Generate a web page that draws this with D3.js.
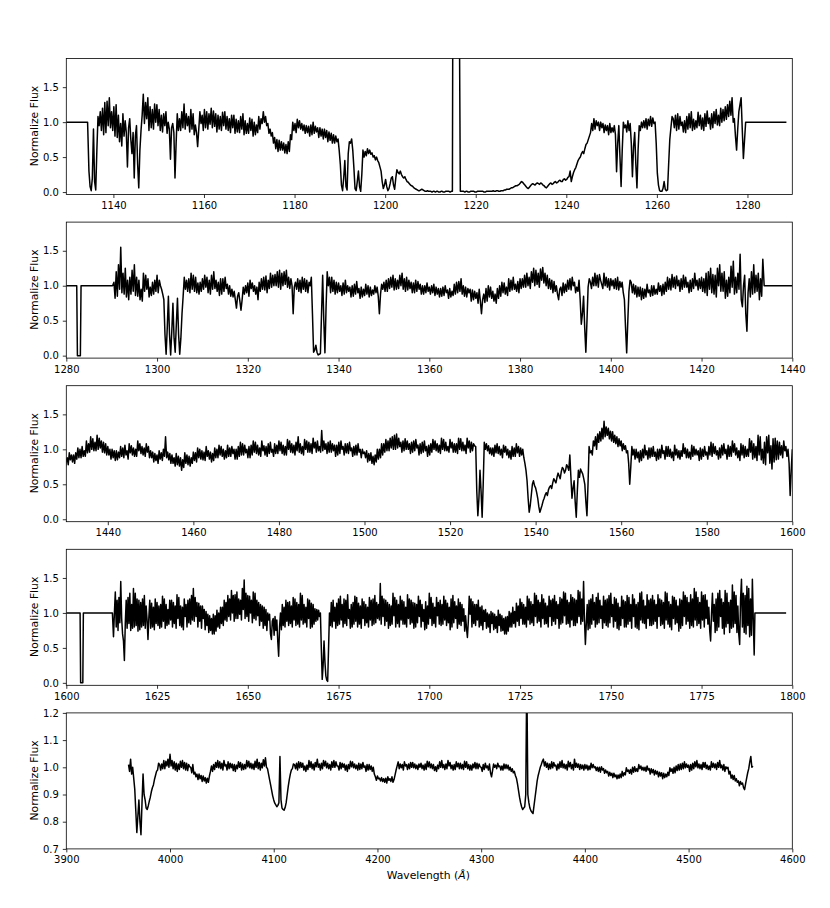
<!DOCTYPE html>
<html><head><meta charset="utf-8">
<script src="https://cdn.jsdelivr.net/npm/d3@7"></script>
<style>
body{margin:0;background:#fff}
svg{display:block}
text{font-family:"DejaVu Sans",sans-serif}
</style>
</head><body>
<svg id="chart" width="830" height="908"></svg>
<script>
// ---------------- DATA (flux) ----------------
// Panel 1: flat padding (λ, flux) and noisy flux in percent, λ = 1134.6 + 0.25·i
const pad1Left = [[1129.6,1],[1134.3,1]];
const pad1Right = [[1279.6,1],[1288.6,1]];
const flux1Start = 1134.6, flux1Step = 0.25;
const flux1Pct = [
30,8,2,20,90,15,3,60,108,95,115,88,120,82,128,85,130,95,135,92,
115,88,122,80,125,78,110,72,98,66,112,80,102,85,36,92,105,75,55,85,
20,80,95,40,6,60,88,110,140,98,128,105,135,88,122,92,118,90,126,100,
125,95,118,88,110,86,112,95,115,84,100,90,47,92,98,85,20,70,112,88,
105,88,115,92,126,90,112,95,108,86,118,90,112,82,96,85,65,90,115,98,
110,88,118,92,115,90,112,97,120,92,116,94,112,86,110,90,108,88,114,95,
115,90,108,88,105,85,110,92,110,84,104,86,102,85,108,90,112,82,102,84,
98,84,106,88,104,80,100,82,96,85,108,90,105,98,
115,100,108,95,98,84,90,80,85,70,78,62,75,58,74,60,72,60,70,56,68,55,72,58,82,75,100,88,98,85,104,92,102,90,
98,88,96,84,95,85,94,80,96,82,100,84,94,86,92,78,92,80,90,76,90,78,88,72,86,74,84,70,82,70,80,72,76,60,
40,10,2,20,45,8,3,55,72,70,76,60,35,5,2,15,30,8,1,25,
60,50,58,52,62,55,60,54,56,50,52,46,50,45,42,36,30,15,5,10,
18,8,2,5,12,20,22,10,4,20,32,28,26,30,25,22,20,22,18,15,
14,12,10,9,8,6,5,4,3,2,2,3,4,3,2,1,1,2,1,1,
1,0,1,1,0,1,1,0,0,1,1,0,0,1,1,1,1,0,1,1,
700,700,700,700,700,300,1,1,
1,1,0,1,1,0,0,1,1,1,1,0,0,1,1,1,1,1,1,0,0,1,1,1,1,1,1,2,1,1,2,2,
1,1,2,2,2,3,3,4,4,4,5,6,6,7,8,9,9,10,11,13,15,14,12,10,8,6,5,7,9,11,12,11,10,12,13,12,11,13,12,10,9,7,6,8,10,12,13,11,12,14,15,13,14,16,17,15,15,18,19,17,18,21,22,30,15,22,28,32,35,40,45,48,50,55,58,55,62,68,70,75,80,85,98,88,105,90,102,95,100,88,100,92,98,85,96,88,95,82,98,85,92,86,95,82,
29,70,95,50,8,60,100,92,96,86,102,88,98,70,22,65,85,40,6,60,95,88,100,92,102,92,105,90,104,95,108,94,106,98,100,70,27,10,2,1,1,5,15,4,2,3,40,75,92,108,
105,92,110,88,112,90,108,95,100,86,102,85,108,90,112,92,115,88,104,90,102,92,114,95,110,90,106,88,112,94,116,98,106,90,112,92,115,98,118,96,110,95,120,100,118,102,122,104,125,108,130,110,135,100,105,80,60,90,115,125,135,90,48
];

// Panel 2
const pad2Left = [[1280,1],[1282.3,1],[1282.45,0],[1283.1,0],[1283.25,1],[1290.2,1]];
const pad2Right = [[1433.8,1],[1440,1]];
const flux2Start = 1290.5, flux2Step = 0.25;
const flux2Pct = [
105,82,120,85,130,95,155,90,118,88,125,84,108,80,112,88,122,92,130,86,112,85,108,80,95,78,118,92,115,95,110,84,98,86,105,88,108,92,115,90,
108,100,95,88,80,30,2,40,85,30,1,35,75,25,5,45,82,30,2,25,60,85,112,95,108,92,110,90,118,95,115,92,112,90,104,88,105,92,110,95,
115,98,112,90,108,88,115,95,120,96,108,92,105,86,110,88,110,92,112,96,102,88,100,85,95,84,92,80,68,85,90,78,65,80,98,88,100,90,104,85,
108,96,104,92,100,88,98,80,105,92,110,95,112,94,114,90,108,96,118,98,115,100,116,100,120,98,122,95,118,100,120,102,122,98,112,96,110,100,60,98,
105,95,110,92,108,90,112,95,110,92,108,90,105,100,112,60,5,8,15,5,1,2,3,60,115,50,4,70,120,100,112,90,112,92,108,88,105,90,104,92,
100,86,104,88,108,90,100,92,98,84,100,85,102,88,106,90,96,82,98,84,95,86,102,88,100,84,98,86,94,88,100,90,98,85,60,88,102,95,105,92,
108,92,110,96,112,98,115,94,110,95,108,96,115,100,118,95,110,92,112,94,108,96,105,90,104,90,108,92,106,95,102,88,100,88,100,90,104,92,98,88,
100,90,102,86,98,88,96,84,96,85,98,86,100,90,94,82,96,84,92,86,102,88,105,90,106,92,110,88,100,85,98,84,96,90,95,78,94,80,92,82,
90,75,95,78,60,80,88,76,96,78,100,84,98,82,92,78,88,75,96,82,100,85,105,90,104,88,98,86,110,92,108,94,112,95,102,92,106,90,110,96,
110,98,115,98,118,100,112,96,120,105,125,100,122,102,118,98,124,108,126,104,118,100,115,96,110,95,108,90,106,92,100,88,80,95,98,86,104,90,102,92,
108,95,110,94,112,100,105,90,98,92,108,80,45,60,85,40,5,50,98,110,105,96,112,100,118,100,115,98,116,108,102,96,118,100,112,98,110,94,110,100,
108,96,110,95,112,94,106,98,105,90,80,40,4,50,92,108,105,90,102,88,100,84,98,85,98,80,96,82,95,84,102,90,94,85,100,86,100,88,95,88,
104,92,100,86,102,88,105,92,112,95,110,94,116,98,112,96,114,100,108,92,110,95,115,98,112,98,105,90,108,92,110,96,118,100,108,94,110,96,112,92,
110,90,118,86,120,95,125,90,116,88,115,84,125,100,130,92,118,92,120,82,108,85,112,90,128,98,135,88,112,90,118,95,145,80,70,100,115,60,35,90,
110,84,120,88,130,90,115,92,118,80,110,85,138
];

// Panel 3
const pad3Left = [];
const pad3Right = [];
const flux3Start = 1430, flux3Step = 0.25;
const flux3Pct = [
70,82,88,78,95,85,92,82,92,80,95,86,102,88,100,88,104,90,98,90,112,95,108,96,118,100,115,98,110,98,120,100,116,102,112,96,110,95,108,92,
104,92,100,86,100,88,98,84,98,85,96,88,104,90,102,88,106,92,98,86,108,95,105,92,102,90,100,90,112,98,108,94,104,92,102,90,108,96,104,88,
98,88,96,82,94,84,92,80,98,86,95,84,100,90,118,88,96,85,94,80,92,80,88,76,94,78,90,76,88,70,85,74,95,80,92,78,90,76,88,80,
96,84,95,82,102,88,100,86,98,85,96,84,104,90,98,86,96,82,94,84,102,88,100,88,106,92,104,90,100,86,98,88,106,90,102,90,104,94,100,86,
100,86,104,90,110,92,108,92,106,95,100,88,104,88,106,92,112,96,110,94,106,92,102,90,112,98,105,92,104,90,108,94,110,96,100,90,108,94,106,94,
112,98,110,94,106,92,104,92,114,100,112,96,108,95,106,92,110,98,118,96,108,94,104,92,114,100,112,96,110,96,108,94,116,102,110,96,112,98,104,96,
127,98,112,100,108,94,110,96,112,96,108,98,106,90,106,92,110,94,112,100,104,92,108,95,108,94,110,98,102,90,104,92,106,92,108,96,100,88,100,94,
96,88,98,82,94,84,95,80,90,78,92,82,100,86,100,88,108,92,108,96,114,98,112,98,116,102,118,100,120,100,122,102,116,104,110,96,112,98,115,100,
112,100,108,94,110,96,112,98,114,102,106,92,108,94,110,96,112,98,104,90,106,92,108,96,114,100,112,98,108,96,106,94,116,100,114,98,110,98,104,96,
114,102,110,96,108,96,108,94,116,100,115,98,110,98,106,94,116,102,112,96,110,98,108,105,104,40,5,30,70,40,3,50,110,100,108,98,105,94,102,92,
102,90,106,95,108,94,104,92,100,88,106,96,104,92,100,88,98,86,104,90,102,90,108,95,104,90,102,92,100,88,80,70,55,30,10,20,35,50,55,48,
45,38,30,18,10,15,20,26,30,35,38,34,42,46,48,44,52,58,55,52,60,66,62,58,68,74,72,66,70,78,75,70,92,60,30,45,55,25,3,40,
70,60,72,68,65,58,50,25,5,50,104,95,98,92,112,105,118,100,122,110,125,112,130,115,140,118,132,120,130,115,126,112,125,110,120,108,118,104,115,105,
112,98,108,100,105,95,98,80,50,75,104,92,100,86,100,88,96,82,98,84,100,88,106,92,98,86,102,88,102,90,104,90,96,84,100,86,100,88,106,94,
98,86,104,90,104,90,100,88,96,84,106,92,100,88,98,86,98,90,108,94,102,88,100,88,96,86,106,90,104,92,100,92,98,84,102,86,100,90,104,92,
96,86,104,92,110,90,108,94,104,92,98,86,102,88,106,92,108,94,100,86,106,90,104,90,112,96,108,92,102,88,98,84,108,92,106,88,104,90,100,90,
115,96,112,86,108,88,104,84,120,92,118,85,100,80,110,78,118,95,120,80,105,72,115,82,116,85,112,86,110,92,105,88,112,98,104,90,100,80,34,70,
100
];

// Panel 4
const pad4Left = [[1600,1],[1603.8,1],[1603.95,0],[1604.55,0],[1604.7,1],[1612.7,1]];
const pad4Right = [[1789.7,1],[1798.3,1]];
const flux4Start = 1613, flux4Step = 0.25;
const flux4Pct = [
66,100,130,80,118,75,122,86,145,92,70,60,32,85,118,78,122,85,128,75,112,78,135,80,128,82,120,74,118,76,115,80,120,82,125,78,110,90,62,95,
118,78,114,80,108,76,120,85,115,82,110,78,112,80,124,88,120,78,112,82,105,84,118,90,118,80,115,85,110,78,126,92,122,82,110,80,108,76,120,95,
112,80,118,86,120,84,125,90,135,88,122,95,115,80,114,88,110,78,110,92,105,76,102,82,98,72,96,75,92,70,98,70,96,74,104,80,100,78,108,85,
108,82,118,90,115,88,125,95,120,90,132,100,125,88,126,92,130,92,120,98,118,90,135,105,147,92,128,95,125,88,124,100,118,86,130,92,128,90,118,96,
115,82,112,88,110,78,108,82,105,75,100,90,98,70,62,88,92,68,95,75,90,60,38,80,100,76,112,82,108,80,118,88,115,82,116,85,110,80,122,90,
120,82,115,84,112,80,128,90,125,84,112,86,108,80,120,92,118,78,114,80,112,84,106,88,105,90,104,95,100,50,5,25,60,30,10,4,2,50,100,82,
115,80,118,88,108,78,114,82,120,84,124,90,112,80,120,85,118,82,126,92,105,78,112,80,115,84,124,88,122,80,114,84,110,78,120,92,116,82,112,86,
108,80,122,90,118,82,120,84,125,86,115,92,112,90,142,84,124,95,120,82,118,88,115,78,112,82,110,84,128,96,122,80,118,85,112,80,124,90,118,84,
116,84,108,80,126,92,120,84,118,86,115,78,114,80,112,86,124,95,118,80,112,88,105,76,116,78,110,84,128,92,122,82,114,85,108,80,122,96,115,84,
118,82,112,84,124,90,118,82,114,86,108,76,120,80,125,86,116,92,110,78,120,84,115,82,112,88,106,74,96,78,65,88,124,98,120,80,116,85,112,82,
112,90,118,80,108,82,110,76,104,88,105,78,100,80,98,72,102,85,100,76,98,78,95,72,104,82,98,74,96,75,92,70,94,70,95,74,102,80,100,80,
108,85,102,80,114,88,110,82,120,92,115,84,112,84,108,80,124,90,120,84,116,86,112,82,128,95,125,86,118,88,115,80,126,92,120,84,114,85,110,80,
124,95,118,82,120,88,125,84,116,92,112,78,122,84,120,86,130,96,128,84,118,85,115,80,126,90,122,82,120,82,118,86,132,95,130,84,120,88,145,90,
55,85,112,76,118,78,120,84,126,90,115,80,122,84,128,86,118,92,110,78,124,86,118,82,120,80,125,86,128,95,112,80,122,88,120,78,114,76,108,82,
124,92,118,80,116,80,125,84,122,88,112,78,126,95,120,80,112,78,115,76,128,90,130,86,118,85,110,78,126,92,118,82,120,82,125,84,118,88,112,78,
126,95,120,82,118,84,115,78,130,90,128,84,116,80,112,76,124,92,122,84,118,86,110,74,120,78,118,82,130,95,125,84,122,88,115,78,126,82,120,80,
135,90,130,82,122,85,115,78,130,90,125,80,126,92,118,84,108,75,60,100,128,88,112,72,120,75,128,80,132,95,120,78,115,70,132,80,128,85,115,72,
118,78,140,80,130,85,125,72,110,70,55,120,148,80,128,72,125,70,138,82,135,66,120,68,148,90,40
];

// Panel 5 (optical), flux in per-mille, λ = 3960 + 1·i
const pad5Left = [];
const pad5Right = [];
const flux5Start = 3960, flux5Step = 1;
const flux5Permille = [
1010,985,1030,975,1000,960,920,840,760,820,880,800,752,870,975,900,880,850,845,858,875,890,910,925,935,955,970,985,990,1015,1010,990,1012,995,1025,995,1022,1005,1030,1000,
1048,1005,1025,995,1020,990,1015,985,1012,992,1022,1000,1025,995,1018,990,1015,988,1010,1002,1000,980,1010,975,982,965,975,955,975,958,970,948,968,950,962,942,960,945,968,985,
1005,985,1010,992,1018,1000,1025,998,1020,995,1015,990,1025,1005,1010,990,1020,995,1015,998,1012,988,1010,985,1008,995,1020,1000,1018,990,1012,992,1010,995,1025,1002,1022,998,1015,995,
1012,992,1022,1000,1030,995,1018,990,1015,998,1028,1005,1035,1000,995,975,955,935,915,895,880,868,862,855,860,870,1040,880,850,845,842,852,870,900,930,955,975,990,995,1012,
1010,995,1015,990,1020,998,1018,1000,1015,990,1005,985,1008,992,1025,1000,1020,995,1012,990,1018,1002,1030,1000,1012,990,1015,995,1025,1005,1022,998,1015,995,1010,990,1020,1000,1025,1000,
1020,1005,1005,990,1018,995,1015,1000,1012,990,1008,985,1010,995,1022,1002,1020,998,1012,995,1008,990,1015,992,1012,995,1018,1000,1005,985,1010,990,1010,992,1005,985,1000,975,965,952,
968,958,960,950,962,948,958,945,960,942,965,952,958,948,965,945,955,972,990,1005,1020,995,1012,998,1010,990,1020,1005,1010,992,1012,995,1018,1000,1018,998,1012,995,1008,992,
1012,1000,1015,995,1008,990,1012,992,1022,1002,1020,998,1012,995,1010,988,1002,985,1008,995,1020,1000,1025,998,1010,992,1012,995,1025,1005,1018,995,1008,990,1010,992,1020,1002,1015,995,
1015,995,1010,992,1022,1000,1020,995,1010,990,1008,990,1012,998,1018,995,1015,995,1012,1002,1000,985,1010,992,1015,998,1005,990,1012,980,965,988,1012,1000,1008,995,1015,1002,1005,990,
1005,990,1012,995,1010,995,1008,990,1000,985,995,980,985,970,960,940,915,890,870,855,845,850,855,900,1350,900,870,850,840,835,830,860,890,920,950,970,985,1000,1010,1022,
1030,1005,1020,1000,1015,992,1012,995,1020,998,1018,1005,1008,990,1012,995,1020,1000,1025,998,1012,995,1010,990,1022,1002,1018,995,1010,990,1030,1000,1015,1000,1012,992,1010,995,1008,990,
1010,995,1008,990,1005,992,1015,998,1010,998,1002,988,1000,985,1000,982,1002,990,995,978,990,980,985,968,982,970,978,962,978,965,972,958,972,960,975,962,985,968,980,972,
998,985,990,978,992,975,1000,982,1002,985,995,985,1010,995,1005,990,1000,988,1000,985,1005,990,995,975,995,980,992,972,988,975,985,965,982,968,980,958,978,962,975,965,
982,970,998,985,995,978,1000,980,1005,988,1010,990,1012,992,1015,995,1020,998,1012,1000,1008,985,1010,990,1015,995,1020,1002,1025,998,1012,995,1010,992,1018,1000,1018,995,1008,992,
1005,990,1020,1000,1015,998,1012,992,1018,1000,1025,998,1008,990,1010,985,1002,995,1000,975,985,960,972,955,970,950,958,945,950,932,948,938,942,925,918,940,960,980,995,1020,
1040,1000,1005
];

// Axis ticks and labels
const xTicks1 = [1140,1160,1180,1200,1220,1240,1260,1280];
const xTicks2 = [1280,1300,1320,1340,1360,1380,1400,1420,1440];
const xTicks3 = [1440,1460,1480,1500,1520,1540,1560,1580,1600];
const xTicks4 = [1600,1625,1650,1675,1700,1725,1750,1775,1800];
const xTicks5 = [3900,4000,4100,4200,4300,4400,4500,4600];
const yTicksUV = [0.0,0.5,1.0,1.5];
const yTicksOpt = [0.7,0.8,0.9,1.0,1.1,1.2];
const yLabel = "Normalize Flux";
const xLabel = "Wavelength (";

// ---------------- BUILD ----------------
function buildSeries(padL, start, step, vals, unit, padR){
  const pts = padL.map(p => p.slice());
  vals.forEach((v,i) => pts.push([start + i*step, v/unit]));
  padR.forEach(p => pts.push(p.slice()));
  return pts;
}

const panels = [
  {xd:[1129.6,1289.9], yd:[-0.035,1.91], xt:xTicks1, yt:yTicksUV, data:buildSeries(pad1Left,flux1Start,flux1Step,flux1Pct,100,pad1Right)},
  {xd:[1280,1440], yd:[-0.035,1.91], xt:xTicks2, yt:yTicksUV, data:buildSeries(pad2Left,flux2Start,flux2Step,flux2Pct,100,pad2Right)},
  {xd:[1430.3,1600], yd:[-0.035,1.91], xt:xTicks3, yt:yTicksUV, data:buildSeries(pad3Left,flux3Start,flux3Step,flux3Pct,100,pad3Right)},
  {xd:[1600,1800], yd:[-0.035,1.91], xt:xTicks4, yt:yTicksUV, data:buildSeries(pad4Left,flux4Start,flux4Step,flux4Pct,100,pad4Right)},
  {xd:[3900,4600], yd:[0.7,1.2], xt:xTicks5, yt:yTicksOpt, data:buildSeries(pad5Left,flux5Start,flux5Step,flux5Permille,1000,pad5Right)}
];

const svg = d3.select("#chart");
const L = 66.3, R = 792.3, PH = 136;
const tops = [58.5, 222.1, 385.7, 549.3, 712.9];

panels.forEach((p, k) => {
  const top = tops[k];
  const x = d3.scaleLinear().domain(p.xd).range([L, R]);
  const y = d3.scaleLinear().domain(p.yd).range([top + PH, top]);
  const g = svg.append("g");

  g.append("clipPath").attr("id", "clip" + k)
    .append("rect").attr("x", L).attr("y", top).attr("width", R - L).attr("height", PH);

  const line = d3.line().x(d => x(d[0])).y(d => y(d[1]));
  g.append("path").datum(p.data)
    .attr("clip-path", `url(#clip${k})`)
    .attr("fill", "none").attr("stroke", "#000").attr("stroke-width", 1.5)
    .attr("stroke-linejoin", "round")
    .attr("d", line);

  const xa = g.append("g").attr("transform", `translate(0,${top + PH})`)
    .call(d3.axisBottom(x).tickValues(p.xt).tickSize(3.5).tickPadding(4).tickFormat(d3.format("d")));
  const ya = g.append("g").attr("transform", `translate(${L},0)`)
    .call(d3.axisLeft(y).tickValues(p.yt).tickSize(3.5).tickPadding(4).tickFormat(d3.format(".1f")));
  [xa, ya].forEach(a => {
    a.select(".domain").remove();
    a.attr("font-family", null).attr("font-size", null);
    a.selectAll("line").attr("stroke", "#000").attr("stroke-width", 0.8);
    a.selectAll("text").attr("fill", "#000").style("font-size", "10px").style("font-family", '"DejaVu Sans",sans-serif');
  });

  g.append("rect").attr("x", L).attr("y", top).attr("width", R - L).attr("height", PH)
    .attr("fill", "none").attr("stroke", "#000").attr("stroke-width", 0.8);

  g.append("text")
    .attr("transform", `translate(37.5,${top + PH/2 - 0.5}) rotate(-90)`)
    .attr("text-anchor", "middle").style("font-size", "10.8px").attr("fill", "#000")
    .text(yLabel);
});

const xl = svg.append("text").attr("x", (L + R)/2 - 1).attr("y", 878.5)
  .attr("text-anchor", "middle").style("font-size", "10.8px").attr("fill", "#000");
xl.append("tspan").text(xLabel);
xl.append("tspan").style("font-style", "italic").text("Å");
xl.append("tspan").text(")");
</script>
</body></html>
